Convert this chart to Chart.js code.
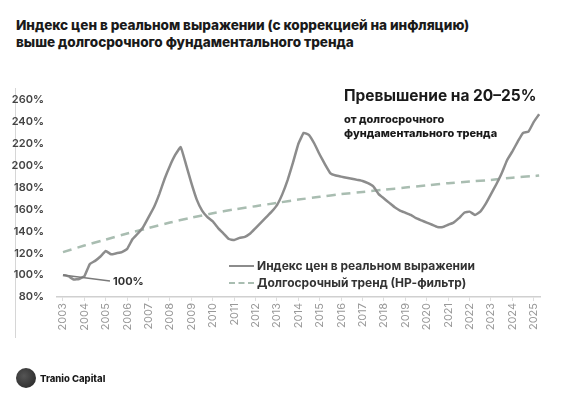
<!DOCTYPE html>
<html lang="ru">
<head>
<meta charset="utf-8">
<script src="https://cdn.jsdelivr.net/npm/chart.js@4.4.1/dist/chart.umd.min.js"></script>
<style>
    body { margin: 0; width: 580px; height: 394px; background: #fff; position: relative; overflow: hidden;
           font-family: Inter, "Noto Sans", sans-serif; color: #1a1a1a; }
    #chartBox { position: absolute; left: 0; top: 0; width: 580px; height: 394px; }
    .title { position: absolute; left: 16px; top: 17px; font-size: 13.6px; font-weight: 800; line-height: 17px; letter-spacing: -0.05px; }
    .note-big { position: absolute; left: 344px; top: 86px; font-size: 15.5px; font-weight: 700; }
    .note-small { position: absolute; left: 344px; top: 112px; font-size: 11px; font-weight: 800; line-height: 14px; }
    .label100 { position: absolute; left: 113px; top: 274px; font-size: 11px; font-weight: 700; color: #333; }
    .legend { position: absolute; left: 229px; top: 257px; font-size: 12px; font-weight: 700; color: #333; }
    .legend div { display: flex; align-items: center; height: 17px; }
    .legend span.line { display: inline-block; width: 25px; margin-right: 3px; border-top: 2px solid #8c8c8c; }
    .legend span.dash { border-top: 2px dashed #a9bdb1; }
    .frame { position: absolute; left: 15px; top: 88px; width: 1px; height: 250px; background: #d6d6d6; }
    .logo { position: absolute; left: 16px; top: 368px; display: flex; align-items: center; font-size: 9.5px; font-weight: 800; }
    .logo .dot { width: 20px; height: 20px; border-radius: 50%; margin-right: 4px;
                 background: radial-gradient(circle at 40% 40%, #555, #222); }
</style>
</head>
<body>
<div class="title">Индекс цен в реальном выражении (с коррекцией на инфляцию)<br>выше долгосрочного фундаментального тренда</div>
<div class="frame"></div>
<div id="chartBox"><canvas id="lineChart" width="580" height="394"></canvas></div>
<div class="note-big">Превышение на 20–25%</div>
<div class="note-small">от долгосрочного<br>фундаментального тренда</div>
<div class="label100">100%</div>
<div class="legend">
    <div><span class="line"></span>Индекс цен в реальном выражении</div>
    <div><span class="line dash"></span>Долгосрочный тренд (НР-фильтр)</div>
</div>
<div class="logo"><span class="dot"></span>Tranio Capital</div>

<script>
// tick labels
const years = [2003, 2004, 2005, 2006, 2007, 2008, 2009, 2010, 2011, 2012, 2013, 2014,
               2015, 2016, 2017, 2018, 2019, 2020, 2021, 2022, 2023, 2024, 2025];

// real price index, quarterly from 2003 Q1, %
const priceStartYear = 2003;
const priceStep = 0.25;
const priceIndex = [
    100, 99, 96, 96.5,        // 2003
    99, 110, 113, 117,        // 2004
    122, 119, 120, 121,       // 2005
    124, 133, 138, 144,       // 2006
    153, 162, 174, 188,       // 2007
    200, 210, 217, 201,       // 2008
    184, 169, 159, 153,       // 2009
    149, 143, 138, 133,       // 2010
    132, 134, 135, 138,       // 2011
    143, 148, 153, 158,       // 2012
    164, 174, 187, 203,       // 2013
    220, 230, 228, 220,       // 2014
    210, 201, 193, 191,       // 2015
    190, 189, 188, 187,       // 2016
    186, 184, 181, 174,       // 2017
    170, 166, 162, 159,       // 2018
    157, 155, 152, 150,       // 2019
    148, 146, 144, 144,       // 2020
    146, 148, 152, 157,       // 2021
    158, 155, 158, 165,       // 2022
    174, 183, 193, 205,       // 2023
    213, 222, 230, 231,       // 2024
    240, 247                  // 2025
];

// HP-filter long term trend, %
const trendYears = [2003, 2004, 2005, 2006, 2007, 2008, 2009, 2010, 2011, 2012, 2013, 2014,
                    2015, 2016, 2017, 2018, 2019, 2020, 2021, 2022, 2023, 2024, 2025, 2025.25];
const trendValues = [121, 127, 132.5, 138, 143, 148, 152.5, 156.5, 160, 163, 166, 169,
                     171.5, 174, 176, 178, 180, 182, 184, 185.5, 187, 189, 190.5, 191];

const priceData = priceIndex.map((v, i) => ({x: priceStartYear + i * priceStep, y: v}));
const trendData = trendValues.map((v, i) => ({x: trendYears[i], y: v}));

// thin pointer from the first point to the "100%" label
const pointerPlugin = {
    id: 'pointer100',
    afterDatasetsDraw(chart) {
        const {ctx, scales: {x, y}} = chart;
        const x0 = x.getPixelForValue(priceData[0].x);
        const y0 = y.getPixelForValue(priceData[0].y);
        ctx.save();
        ctx.strokeStyle = '#7a7a7a';
        ctx.lineWidth = 1.5;
        ctx.beginPath();
        ctx.moveTo(x0, y0);
        ctx.lineTo(x0 + 47, y0 + 6);
        ctx.stroke();
        ctx.restore();
    }
};

let ctx = document.getElementById('lineChart').getContext('2d');

window.lineChart = new Chart(ctx, {
    type: 'line',
    data: {
        datasets: [
            {
                label: 'Индекс цен в реальном выражении',
                data: priceData,
                borderColor: '#8c8c8c',
                borderWidth: 2.5,
                pointRadius: 0,
                tension: 0.1
            },
            {
                label: 'Долгосрочный тренд (НР-фильтр)',
                data: trendData,
                borderColor: '#a9bdb1',
                borderWidth: 2.5,
                borderDash: [9, 6],
                pointRadius: 0,
                tension: 0.3
            }
        ]
    },
    options: {
        responsive: false,
        animation: false,
        layout: { padding: { top: 100, right: 40, left: 0, bottom: 0 } },
        scales: {
            x: {
                type: 'linear',
                min: 2002.72,
                max: 2025.29,
                afterBuildTicks: axis => { axis.ticks = years.map(v => ({value: v})); },
                afterFit: scale => { scale.height = 97; },
                ticks: {
                    autoSkip: false,
                    minRotation: 90,
                    maxRotation: 90,
                    padding: 2,
                    color: '#999',
                    font: { family: 'Inter', size: 11 },
                    callback: v => String(v)
                },
                grid: { drawOnChartArea: false, drawTicks: true, tickLength: 4, color: '#ddd' },
                border: { display: true, color: '#d0d0d0', width: 1.5 }
            },
            y: {
                min: 80,
                max: 260,
                afterFit: scale => { scale.width = 57; },
                ticks: {
                    stepSize: 20,
                    padding: 5,
                    color: '#444',
                    font: { family: 'Inter', size: 11, weight: '600' },
                    callback: v => v + '%'
                },
                grid: { display: false },
                border: { display: false }
            }
        },
        plugins: {
            legend: { display: false },
            title: { display: false },
            tooltip: { enabled: false }
        }
    },
    plugins: [pointerPlugin]
});
</script>
</body>
</html>
